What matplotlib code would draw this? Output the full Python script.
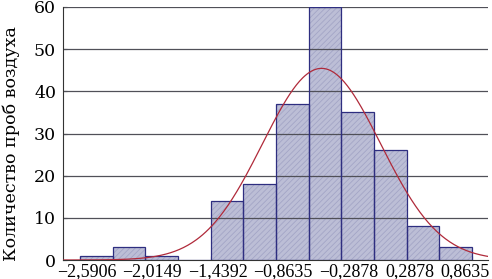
import numpy as np
import matplotlib
matplotlib.use('Agg')
import matplotlib.pyplot as plt
from matplotlib.transforms import ScaledTranslation

# histogram bins (left edges) and counts
bin_start = -2.5906
bin_width = 0.28785
counts = [1, 3, 1, 0, 14, 18, 37, 60, 35, 26, 8, 3]
tick_values = [-2.5906, -2.0149, -1.4392, -0.8635, -0.2878, 0.2878, 0.8635]
tick_labels = ['\u22122,5906', '\u22122,0149', '\u22121,4392', '\u22120,8635',
               '\u22120,2878', '0,2878', '0,8635']
y_ticks = [0, 10, 20, 30, 40, 50, 60]
y_label = 'Количество проб воздуха'

plt.rcParams['font.family'] = 'DejaVu Serif'
plt.rcParams['hatch.linewidth'] = 0.6

counts = np.array(counts)
edges = bin_start + bin_width * np.arange(len(counts) + 1)
centers = edges[:-1] + bin_width / 2

fig = plt.figure(figsize=(4.92, 2.79), dpi=100)
ax = fig.add_axes([0.128, 0.068, 0.864, 0.907])

# bars: hatched fill + dark outline
ax.bar(edges[:-1], counts, width=bin_width, align='edge', color='#bcbed6',
       edgecolor='#a3a5c6', hatch='//////', lw=0, zorder=2)
ax.bar(edges[:-1], counts, width=bin_width, align='edge', fill=False,
       edgecolor='#2e2e80', lw=0.9, zorder=3)
# horizontal grid, also visible over the bars
for y in y_ticks[1:]:
    ax.axhline(y, color='#505058', lw=0.9, zorder=2.5)

# fitted normal curve from the histogram
n = counts.sum()
mu = (centers * counts).sum() / n
sd = np.sqrt(((centers - mu) ** 2 * counts).sum() / n)
xs = np.linspace(-2.74, 1.005, 400)
ys = n * bin_width / (sd * np.sqrt(2 * np.pi)) * np.exp(-(xs - mu) ** 2 / (2 * sd ** 2))
ax.plot(xs, ys, color='#b02a3a', lw=0.9, zorder=4)

ax.set_xlim(-2.741, 1.005)
ax.set_ylim(0, 60)
ax.set_xticks(tick_values)
ax.set_xticklabels(tick_labels, family='Liberation Serif', fontsize=13)
ax.set_yticks(y_ticks)
ax.tick_params(axis='y', labelsize=12.5, direction='in', length=3, pad=5)
ax.tick_params(axis='x', direction='in', length=3, pad=2)

# nudge the tick labels like in the original (last one kept inside)
shifts = [0.07, 0.07, 0.07, 0.07, 0.07, 0.03, -0.07]
for lab, dx in zip(ax.get_xticklabels(), shifts):
    lab.set_transform(lab.get_transform() + ScaledTranslation(dx, 0, fig.dpi_scale_trans))

ax.set_ylabel(y_label, fontsize=12.6, labelpad=3)
ax.yaxis.set_label_coords(-0.1, 0.46)

for s in ['top', 'right']:
    ax.spines[s].set_visible(False)
ax.spines['left'].set_color('#333333')
ax.spines['bottom'].set_color('#333333')

fig.savefig('out.png', dpi=100)
